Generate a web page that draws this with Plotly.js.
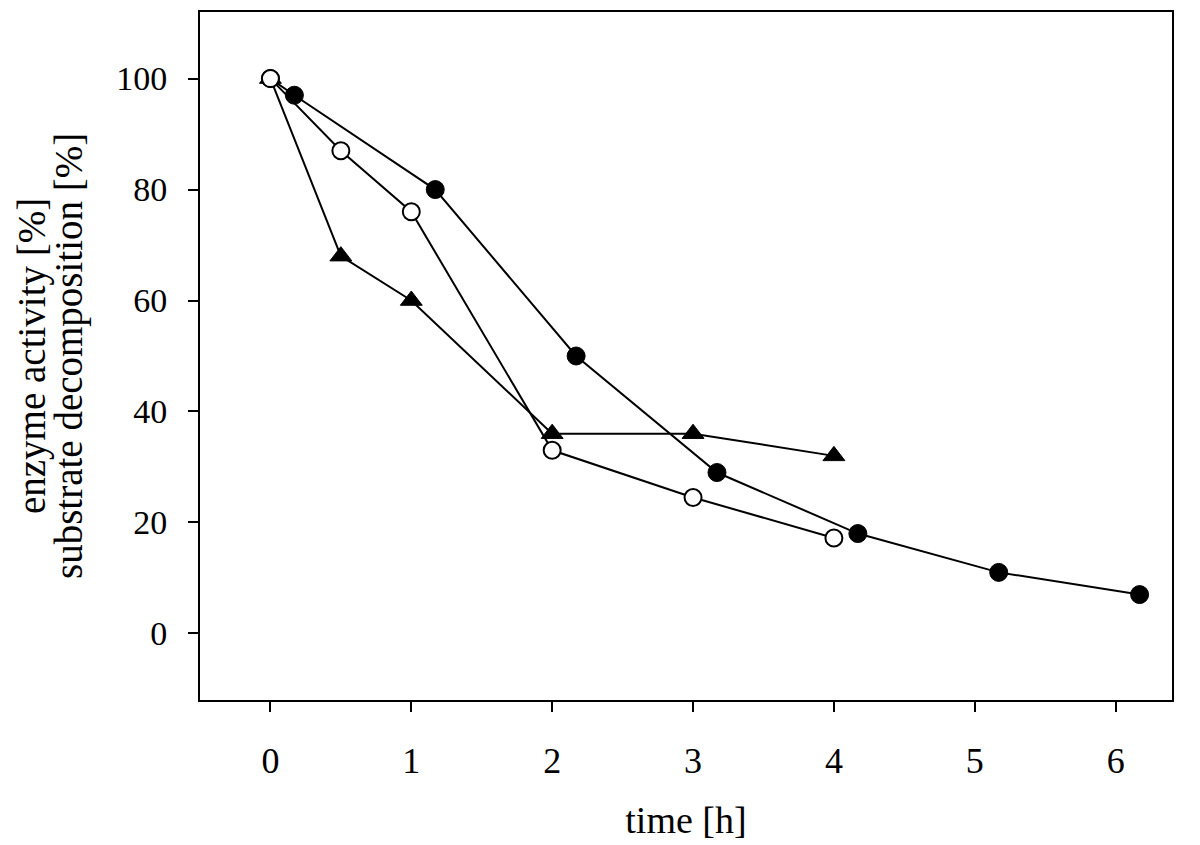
<!DOCTYPE html>
<html>
<head>
<meta charset="utf-8">
<script src="https://cdn.plot.ly/plotly-3.0.1.min.js"></script>
<style>html,body{margin:0;padding:0;background:#fff;}</style>
</head>
<body>
<div id="chart" style="width:1200px;height:845px;"></div>
<script>
// Data
const timeTriangle = [0, 0.5, 1, 2, 3, 4];
const valTriangle  = [100, 68, 60, 36, 36, 32];

const timeFilled = [0, 0.17, 1.17, 2.17, 3.17, 4.17, 5.17, 6.17];
const valFilled  = [100, 97, 80, 50, 29, 18, 11, 7];

const timeOpen = [0, 0.5, 1, 2, 3, 4];
const valOpen  = [100, 87, 76, 33, 24.5, 17.2];

const xTicks = [0, 1, 2, 3, 4, 5, 6];
const yTicks = [0, 20, 40, 60, 80, 100];
const yTitleLines = ["enzyme activity [%]", "substrate decomposition [%]"];
const xTitle = "time [h]";

const FONT = "Liberation Serif, Times New Roman, serif";

const traces = [
  {
    x: timeTriangle, y: valTriangle, type: 'scatter', mode: 'lines+markers',
    line: {color: '#000', width: 2},
    marker: {symbol: 'triangle-up', size: 19, color: '#000', line: {color: '#000', width: 1}},
    hoverinfo: 'skip'
  },
  {
    x: timeFilled, y: valFilled, type: 'scatter', mode: 'lines+markers',
    line: {color: '#000', width: 2},
    marker: {symbol: 'circle', size: 18, color: '#000', line: {color: '#000', width: 1}},
    hoverinfo: 'skip'
  },
  {
    x: timeOpen, y: valOpen, type: 'scatter', mode: 'lines+markers',
    line: {color: '#000', width: 2},
    marker: {symbol: 'circle', size: 17, color: '#fff', line: {color: '#000', width: 2}},
    hoverinfo: 'skip'
  }
];

const plotLeft = 200, plotW = 972;
function paperX(px){ return (px - plotLeft) / plotW; }

const layout = {
  width: 1200, height: 845,
  margin: {l: 200, r: 28, t: 12, b: 145},
  paper_bgcolor: '#fff', plot_bgcolor: '#fff',
  showlegend: false,
  font: {family: FONT, color: '#000'},
  xaxis: {
    range: [-0.5, 6.4],
    tickvals: xTicks, ticktext: xTicks.map(String),
    ticks: 'outside', ticklen: 10, tickwidth: 2, tickcolor: '#000',
    showline: true, linecolor: '#000', linewidth: 2, mirror: true,
    showgrid: false, zeroline: false,
    tickfont: {family: FONT, size: 36, color: '#000'},
    ticklabelstandoff: 18,
    title: {text: xTitle, font: {family: FONT, size: 38, color: '#000'}, standoff: 26}
  },
  yaxis: {
    range: [-12, 112],
    tickvals: yTicks, ticktext: yTicks.map(String),
    ticks: 'outside', ticklen: 10, tickwidth: 2, tickcolor: '#000',
    showline: true, linecolor: '#000', linewidth: 2, mirror: true,
    showgrid: false, zeroline: false,
    tickfont: {family: FONT, size: 34, color: '#000'},
    ticklabelstandoff: 14
  },
  annotations: [
    {text: yTitleLines[0], xref: 'paper', yref: 'paper', x: paperX(32), y: 0.5,
     xanchor: 'center', yanchor: 'middle', textangle: -90, showarrow: false,
     font: {family: FONT, size: 39, color: '#000'}},
    {text: yTitleLines[1], xref: 'paper', yref: 'paper', x: paperX(69), y: 0.5,
     xanchor: 'center', yanchor: 'middle', textangle: -90, showarrow: false,
     font: {family: FONT, size: 39, color: '#000'}}
  ]
};

Plotly.newPlot('chart', traces, layout, {staticPlot: true, displayModeBar: false});
</script>
</body>
</html>
